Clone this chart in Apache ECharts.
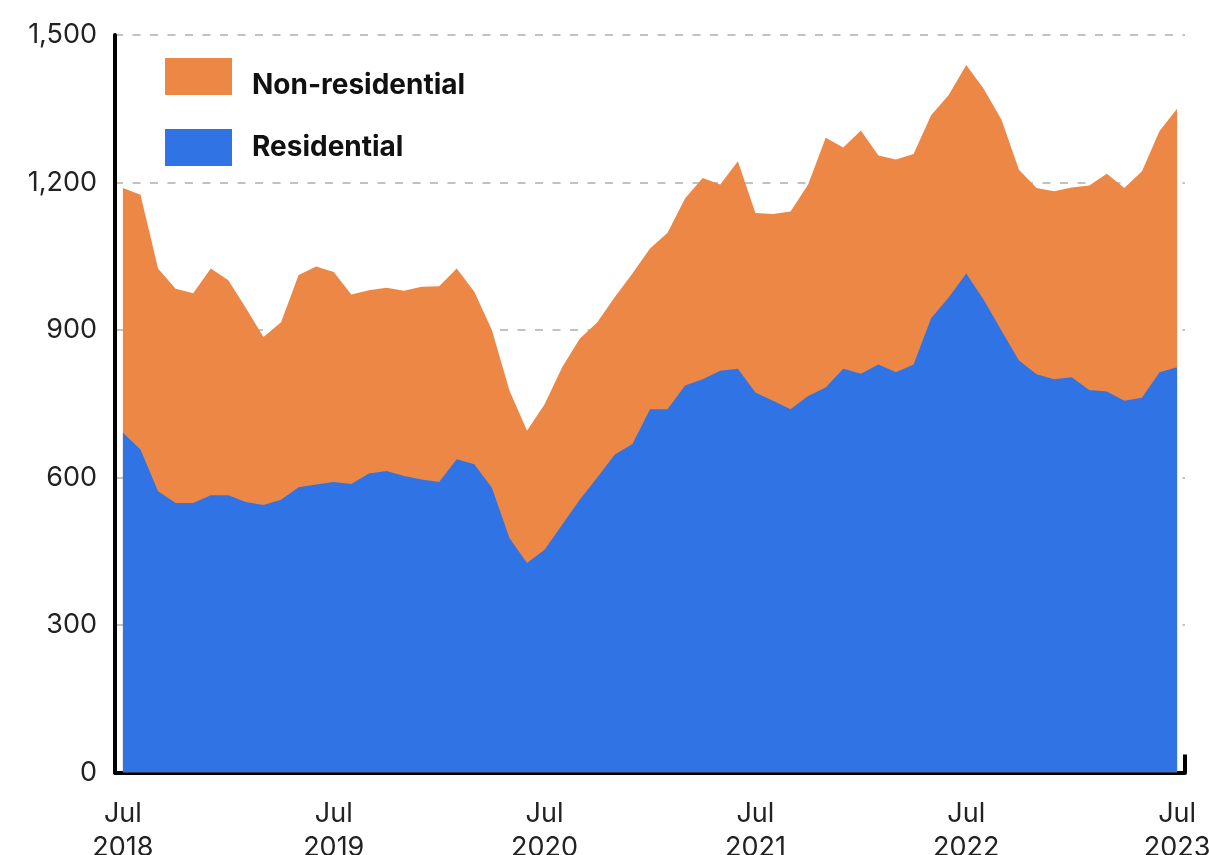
<!DOCTYPE html>
<html>
<head>
<meta charset="utf-8">
<script src="https://cdn.jsdelivr.net/npm/echarts@6/dist/echarts.min.js"></script>
<style>
  html, body { margin: 0; padding: 0; background: #ffffff; }
  #chart { width: 1209px; height: 855px; }
</style>
</head>
<body>
<div id="chart"></div>
<script>
// Monthly, Jul 2018 .. Jul 2023 (61 months)
const residential = [
  691, 657, 572, 548, 548, 564, 564, 550, 544, 555, 580, 586,
  591, 587, 608, 613, 603, 596, 591, 637, 627, 579, 477, 426,
  453, 504, 555, 600, 647, 668, 739, 739, 787, 800, 817, 821,
  773, 756, 739, 766, 783, 821, 811, 830, 814, 830, 924, 966,
  1015, 961, 899, 838, 810, 800, 804, 778, 775, 756, 762, 814,
  824
];
const nonResidential = [
  498, 518, 453, 436, 427, 461, 437, 395, 342, 361, 432, 443,
  427, 385, 373, 373, 377, 392, 398, 388, 351, 321, 300, 269,
  296, 320, 327, 316, 320, 347, 327, 359, 381, 409, 379, 422,
  365, 380, 402, 430, 508, 450, 495, 425, 433, 428, 413, 412,
  424, 429, 429, 388, 379, 382, 386, 416, 443, 433, 461, 491,
  526
];
const xTickPositions = [0, 12, 24, 36, 48, 60];
const xTickLabels = ['Jul\n2018', 'Jul\n2019', 'Jul\n2020', 'Jul\n2021', 'Jul\n2022', 'Jul\n2023'];
const yTickLabels = ['0', '300', '600', '900', '1,200', '1,500'];
const seriesNames = ['Non-residential', 'Residential'];

const ORANGE = '#EC8745';
const BLUE = '#2F73E5';
const X_MIN = -0.45, X_MAX = 60.45;
const FONT = 'Inter, "Noto Sans", sans-serif';

// stacked top of the non-residential band = residential + non-residential
const totals = residential.map((v, i) => v + nonResidential[i]);

const chart = echarts.init(document.getElementById('chart'), null, { renderer: 'canvas' });

const legendBase = {
  orient: 'vertical',
  left: 165,
  padding: 0,
  itemWidth: 67,
  itemHeight: 37,
  icon: 'rect'
};

const option = {
  backgroundColor: '#ffffff',
  animation: false,
  grid: {
    left: 115, right: 24, top: 35, bottom: 82.5,
    containLabel: false,
    outerBoundsMode: 'none'
  },
  legend: [
    Object.assign({}, legendBase, {
      data: [seriesNames[0]],
      top: 53.5,
      // first label sits slightly below the centre of its swatch
      formatter: function (name) { return '\n' + name; },
      textStyle: {
        fontFamily: FONT, fontWeight: 'bold', fontSize: 28,
        lineHeight: 18, color: '#111111', padding: [0, 0, 0, 15]
      }
    }),
    Object.assign({}, legendBase, {
      data: [seriesNames[1]],
      top: 129,
      textStyle: {
        fontFamily: FONT, fontWeight: 'bold', fontSize: 28,
        lineHeight: 34, color: '#111111', padding: [0, 0, 0, 15]
      }
    })
  ],
  xAxis: {
    type: 'value',
    min: X_MIN,
    max: X_MAX,
    axisLine: { show: true, onZero: false, lineStyle: { color: '#000000', width: 4 } },
    axisTick: {
      show: true,
      customValues: [X_MAX],
      inside: true,
      length: 18,
      lineStyle: { color: '#000000', width: 4 }
    },
    splitLine: { show: false },
    axisLabel: {
      customValues: xTickPositions,
      formatter: function (v) {
        const idx = xTickPositions.indexOf(Math.round(v));
        return idx >= 0 ? xTickLabels[idx] : '';
      },
      margin: 24,
      fontFamily: FONT,
      fontSize: 27,
      lineHeight: 34,
      color: '#222222'
    }
  },
  yAxis: {
    type: 'value',
    min: 0,
    max: 1500,
    interval: 300,
    axisLine: { show: true, onZero: false, lineStyle: { color: '#000000', width: 4 } },
    axisTick: { show: false },
    axisLabel: {
      formatter: function (v) { return yTickLabels[Math.round(v / 300)]; },
      margin: 18,
      fontFamily: FONT,
      fontSize: 27,
      color: '#222222'
    },
    splitLine: {
      show: true,
      lineStyle: { color: '#c2c2c2', width: 2, type: [8, 9.5] }
    }
  },
  series: [
    {
      name: 'Non-residential',
      type: 'line',
      data: totals.map((v, i) => [i, v]),
      showSymbol: false,
      symbol: 'none',
      color: ORANGE,
      lineStyle: { width: 0, color: ORANGE },
      areaStyle: { color: ORANGE, opacity: 1, origin: 'start' },
      itemStyle: { color: ORANGE },
      z: 2
    },
    {
      name: 'Residential',
      type: 'line',
      data: residential.map((v, i) => [i, v]),
      showSymbol: false,
      symbol: 'none',
      color: BLUE,
      lineStyle: { width: 0, color: BLUE },
      areaStyle: { color: BLUE, opacity: 1, origin: 'start' },
      itemStyle: { color: BLUE },
      z: 3
    }
  ]
};

chart.setOption(option);
</script>
</body>
</html>
